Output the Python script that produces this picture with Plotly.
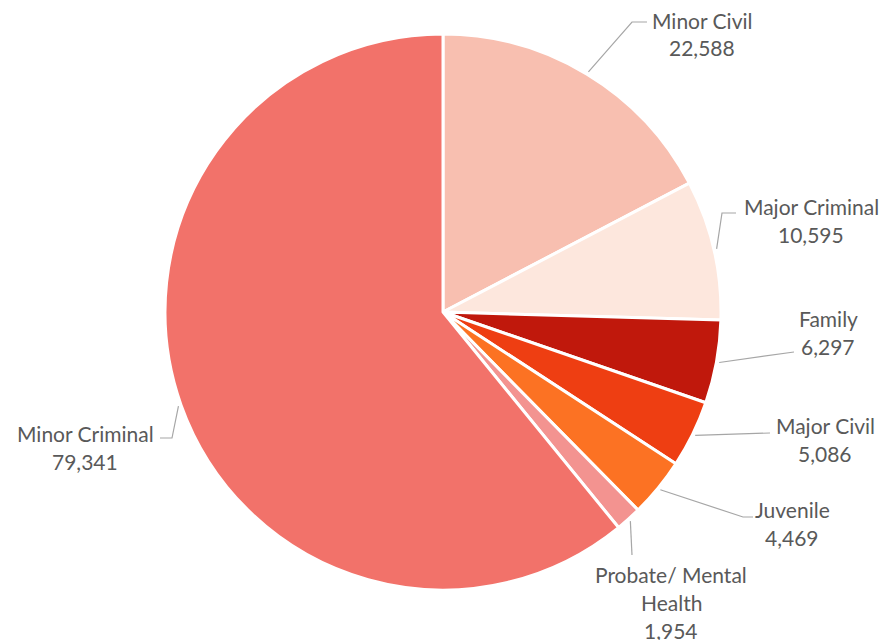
import math
import plotly.graph_objects as go

# ---- data ----
categories = ["Minor Civil", "Major Criminal", "Family", "Major Civil",
              "Juvenile", "Probate/ Mental Health", "Minor Criminal"]
label_lines = [["Minor Civil"], ["Major Criminal"], ["Family"], ["Major Civil"],
               ["Juvenile"], ["Probate/ Mental", "Health"], ["Minor Criminal"]]
values = [22588, 10595, 6297, 5086, 4469, 1954, 79341]
colors = ["#F8BFB0", "#FDE7DD", "#C0180C", "#EE3E12", "#FC7223", "#F39390", "#F2726A"]

# ---- layout (pixels in the 885x640 canvas) ----
W, H = 885, 640
CX, CY, R = 443, 312, 278
# elbow points of leader lines (after the pie edge), text centre x, first text line y
leader_pts = [
    [(632, 22), (647, 22)],
    [(722, 213), (736, 213)],
    [(794, 352)],
    [(770, 433)],
    [(743, 517), (753, 517)],
    [(632, 555)],
    [(172, 438), (160, 438)],
]
text_pos = [(702, 20), (811, 206), (828, 318), (825, 425), (792, 509), (671, 574), (85, 433)]
LINE_GAP = 28

def px(x):
    return x / W

def py(y):
    return 1 - y / H

fig = go.Figure(go.Pie(
    labels=categories, values=values, sort=False, direction="clockwise", rotation=0,
    marker=dict(colors=colors, line=dict(color="white", width=3)),
    textinfo="none", hoverinfo="label+value", showlegend=False,
    domain=dict(x=[(CX - R) / W, (CX + R) / W], y=[(H - CY - R) / H, (H - CY + R) / H]),
))

total = sum(values)
cum = 0
shapes, annotations = [], []
for i, v in enumerate(values):
    mid = (cum + v / 2) / total * 2 * math.pi
    cum += v
    ex = CX + R * 1.01 * math.sin(mid)
    ey = CY - R * 1.01 * math.cos(mid)
    pts = [(ex, ey)] + leader_pts[i]
    path = "M " + " L ".join(f"{px(x):.5f},{py(y):.5f}" for x, y in pts)
    shapes.append(dict(type="path", path=path, xref="paper", yref="paper",
                       line=dict(color="#A6A6A6", width=1.2)))
    tx, ty = text_pos[i]
    lines = label_lines[i] + [f"{v:,}"]
    for k, t in enumerate(lines):
        annotations.append(dict(text=t, x=px(tx), y=py(ty + k * LINE_GAP), xref="paper", yref="paper",
                                showarrow=False, xanchor="center", yanchor="middle",
                                font=dict(family="Lato", size=21, color="#595959")))

fig.update_layout(width=W, height=H, margin=dict(l=0, r=0, t=0, b=0),
                  paper_bgcolor="white", plot_bgcolor="white",
                  shapes=shapes, annotations=annotations)
fig.write_html("out.html", config={"displayModeBar": False},
               post_script="document.body.style.margin='0';")
